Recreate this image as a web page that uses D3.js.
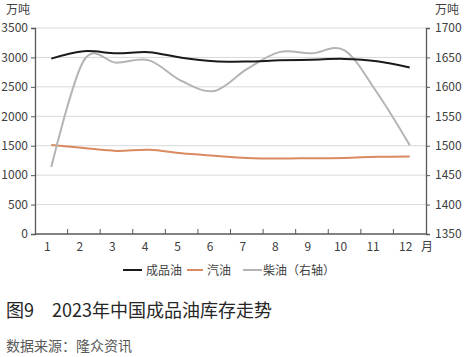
<!DOCTYPE html>
<html>
<head>
<meta charset="utf-8">
<script src="https://cdn.jsdelivr.net/npm/d3@7"></script>
<style>
  body { margin: 0; background: #fff; }
  svg { display: block; font-family: "Noto Sans CJK SC", "Noto Sans", sans-serif; }
</style>
</head>
<body>
<svg id="chart" width="469" height="357"></svg>
<script>
// data
var months = ['1', '2', '3', '4', '5', '6', '7', '8', '9', '10', '11', '12'];
var leftTicks = [0, 500, 1000, 1500, 2000, 2500, 3000, 3500];
var rightTicks = [1350, 1400, 1450, 1500, 1550, 1600, 1650, 1700];
var productOil = [2980, 3105, 3070, 3090, 2995, 2935, 2930, 2950, 2962, 2975, 2935, 2828];
var gasoline = [1512, 1460, 1412, 1432, 1372, 1330, 1292, 1282, 1288, 1292, 1312, 1318];
var diesel = [1464, 1645, 1641, 1645, 1610, 1593, 1630, 1659, 1657, 1662, 1590, 1501];

(function () {
    'use strict';
    var svg = d3.select('#chart');
    var left = 35, right = 426, top = 28, bottom = 234;
    var axisColor = '#595959', textColor = '#404040';

    var x = d3.scaleBand().domain(months).range([left, right]);
    var yL = d3.scaleLinear().domain([0, 3500]).range([bottom, top]);
    var yR = d3.scaleLinear().domain([1350, 1700]).range([bottom, top]);

    // gridlines
    svg.append('g').selectAll('line').data(leftTicks.slice(1)).enter().append('line')
        .attr('x1', left).attr('x2', right)
        .attr('y1', function (d) { return yL(d); }).attr('y2', function (d) { return yL(d); })
        .attr('stroke', '#d9d9d9').attr('stroke-width', 1);

    // left axis
    var gL = svg.append('g').attr('transform', 'translate(' + left + ',0)')
        .call(d3.axisLeft(yL).tickValues(leftTicks).tickFormat(d3.format('d')).tickSize(4).tickPadding(3));
    // right axis
    var gR = svg.append('g').attr('transform', 'translate(' + right + ',0)')
        .call(d3.axisRight(yR).tickValues(rightTicks).tickFormat(d3.format('d')).tickSize(4).tickPadding(5));
    [gL, gR].forEach(function (g) {
        g.select('.domain').attr('stroke', axisColor).attr('stroke-width', 1.3);
        g.selectAll('.tick line').attr('stroke', axisColor);
        g.selectAll('.tick text').attr('fill', textColor).style('font-size', '12px')
            .style('font-family', '"Noto Sans CJK SC", sans-serif');
    });

    // x axis
    var gX = svg.append('g').attr('transform', 'translate(0,' + bottom + ')');
    gX.append('line').attr('x1', left).attr('x2', right).attr('stroke', axisColor).attr('stroke-width', 1.3);
    gX.selectAll('.xt').data(months.slice(1)).enter().append('line')
        .attr('x1', function (d) { return x(d); }).attr('x2', function (d) { return x(d); })
        .attr('y1', -5).attr('y2', 0).attr('stroke', axisColor);
    gX.selectAll('text').data(months).enter().append('text')
        .attr('x', function (d) { return x(d) + x.bandwidth() / 2 - 4; })
        .attr('y', 17).attr('text-anchor', 'middle')
        .attr('fill', textColor).style('font-size', '12px')
        .text(function (d) { return d; });
    svg.append('text').attr('x', 421).attr('y', 251).attr('fill', textColor)
        .style('font-size', '12px').text('月');

    // unit labels
    svg.append('text').attr('x', 6).attr('y', 14).attr('fill', textColor).style('font-size', '12px').text('万吨');
    svg.append('text').attr('x', 435).attr('y', 14).attr('fill', textColor).style('font-size', '12px').text('万吨');

    // lines
    var cx = function (d, i) { return x(months[i]) + x.bandwidth() / 2; };
    var lineL = d3.line().x(cx).y(function (d) { return yL(d); }).curve(d3.curveCardinal.tension(0));
    var lineR = d3.line().x(cx).y(function (d) { return yR(d); }).curve(d3.curveCardinal.tension(0));
    svg.append('path').attr('d', lineL(gasoline)).attr('fill', 'none').attr('stroke', '#d98a5f').attr('stroke-width', 2);
    svg.append('path').attr('d', lineR(diesel)).attr('fill', 'none').attr('stroke', '#b4b4b4').attr('stroke-width', 2);
    svg.append('path').attr('d', lineL(productOil)).attr('fill', 'none').attr('stroke', '#1a1a1a').attr('stroke-width', 2);

    // legend
    var legend = [
        {name: '成品油', color: '#1a1a1a', x1: 123, x2: 142, tx: 146},
        {name: '汽油', color: '#d98a5f', x1: 187, x2: 203, tx: 207},
        {name: '柴油（右轴）', color: '#b4b4b4', x1: 243, x2: 262, tx: 263}
    ];
    var lg = svg.append('g');
    legend.forEach(function (l) {
        lg.append('line').attr('x1', l.x1).attr('x2', l.x2).attr('y1', 270).attr('y2', 270)
            .attr('stroke', l.color).attr('stroke-width', 2);
        lg.append('text').attr('x', l.tx).attr('y', 274.5).attr('fill', textColor)
            .style('font-size', '12px').text(l.name);
    });

    // title and source
    svg.append('text').attr('x', 6).attr('y', 317).attr('fill', '#262626')
        .style('font-size', '18px').text('图9　2023年中国成品油库存走势');
    svg.append('text').attr('x', 6).attr('y', 351).attr('fill', '#595959')
        .style('font-size', '14px').text('数据来源：隆众资讯');
})();
</script>
</body>
</html>
